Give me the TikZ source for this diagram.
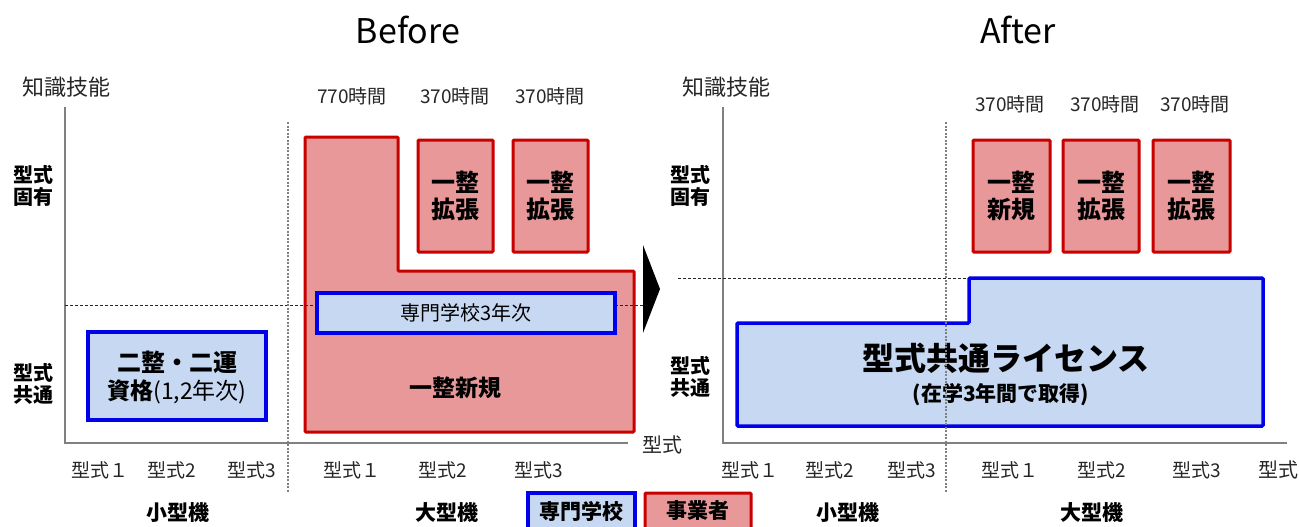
\documentclass[tikz,border=0pt]{standalone}
\usepackage{fontspec}
\setmainfont{Noto Sans CJK JP}
\definecolor{fillred}{RGB}{232,152,152}
\definecolor{bordred}{RGB}{200,0,0}
\definecolor{fillblue}{RGB}{198,216,242}
\definecolor{bordblue}{RGB}{0,0,235}
\definecolor{axisgray}{RGB}{128,128,128}
\begin{document}
\begin{tikzpicture}[x=1pt,y=-1pt,
  axisline/.style={draw=axisgray,line width=1.5pt},
  hdash/.style={draw=black!85,line width=0.9pt,dash pattern=on 3pt off 2pt},
  vdot/.style={draw=axisgray,line width=1.3pt,dash pattern=on 2pt off 1.5pt},
  redbox/.style={draw=bordred,fill=fillred,line width=3pt,rounded corners=1pt,inner sep=0pt},
  bluebox/.style={draw=bordblue,fill=fillblue,line width=3.5pt,inner sep=0pt},
  redshape/.style={draw=bordred,fill=fillred,line width=3pt,rounded corners=1pt},
  blueshape/.style={draw=bordblue,fill=fillblue,line width=3.5pt,rounded corners=1pt},
  title/.style={font=\fontsize{34}{40}\selectfont,inner sep=0pt},
  lbl/.style={font=\fontsize{19}{22}\selectfont,inner sep=0pt,text=black!85},
  ylbl/.style={font=\fontsize{22}{26}\selectfont,inner sep=0pt,text=black!85},
  side/.style={font=\bfseries\fontsize{20}{22}\selectfont,inner sep=0pt,align=center},
  boxtxt/.style={font=\bfseries\fontsize{24}{27}\selectfont,inner sep=0pt,align=center},
  group/.style={font=\bfseries\fontsize{21}{26}\selectfont,inner sep=0pt},
  legend/.style={font=\bfseries\fontsize{21}{24}\selectfont,inner sep=0pt}
]
\useasboundingbox (0,0) rectangle (1299,527);

% titles
\node[title] (before) at (408,30) {Before};
\node[title] (after) at (1018,30) {After};

% ===== Before chart =====
\coordinate (ltop) at (65,107);
\coordinate (lorig) at (65,443);
\coordinate (lxend) at (628,443);
\draw[axisline] (ltop) -- (lorig) -- (lxend);
\node[ylbl] (lknow) at (67,87) {知識技能};
\node[side] (lspec) at (33,186) {型式\\固有};
\node[side] (lcomm) at (33,384) {型式\\共通};

% big L shape (一整新規)
\draw[redshape] (305,137) -- (398,137) -- (398,271) -- (634,271) -- (634,432) -- (305,432) -- cycle;
\coordinate (ldashA) at (65,305);
\coordinate (ldashB) at (643,305);
\draw[hdash] (ldashA) -- (ldashB);
\node[bluebox,minimum width=298pt,minimum height=40pt,font=\fontsize{20}{24}\selectfont] (sen3) at (466,313) {専門学校3年次};
\node[boxtxt,font=\bfseries\fontsize{23}{26}\selectfont] (isshin) at (455,388) {一整新規};

\node[redbox,minimum width=75pt,minimum height=112pt] (lb2) at (455.5,196) {};
\node[boxtxt] (lb2t) at (lb2) {一整\\拡張};
\node[redbox,minimum width=75pt,minimum height=112pt] (lb3) at (550.5,196) {};
\node[boxtxt] (lb3t) at (lb3) {一整\\拡張};

\node[lbl] (lh1) at (352,96) {770時間};
\node[lbl] (lh2) at (455,96) {370時間};
\node[lbl] (lh3) at (550,96) {370時間};

\node[bluebox,minimum width=178pt,minimum height=88pt] (nisei) at (177,376) {};
\node[inner sep=0pt,font=\bfseries\fontsize{24}{24}\selectfont] (niseit1) at (177,362) {二整・二運};
\node[inner sep=0pt] (niseit2) at (177,392) {{\bfseries\fontsize{23}{26}\selectfont 資格}{\fontsize{23}{26}\selectfont(1,2年次)}};

\coordinate (lvA) at (288,122);
\coordinate (lvB) at (288,492);
\draw[vdot] (lvA) -- (lvB);

\node[lbl] (lt1) at (100,470) {型式１};
\node[lbl] (lt2) at (172,470) {型式2};
\node[lbl] (lt3) at (252,470) {型式3};
\node[lbl] (lt4) at (352,470) {型式１};
\node[lbl] (lt5) at (443,470) {型式2};
\node[lbl] (lt6) at (539,470) {型式3};
\node[lbl,font=\fontsize{20}{24}\selectfont] (laxis) at (662,445) {型式};

\node[group] (lsmall) at (178,513) {小型機};
\node[group] (llarge) at (447,513) {大型機};

% legend
\node[bluebox,minimum width=107pt,minimum height=42pt] (legb) at (581.5,514) {};
\node[legend] (legbt) at (581.5,511) {専門学校};
\node[redbox,minimum width=106pt,minimum height=42pt] (legr) at (698,514) {};
\node[legend] (legrt) at (698,511) {事業者};

% arrow
\fill[black] (643,245) -- (660,289) -- (643,333) -- cycle;

% ===== After chart =====
\coordinate (rtop) at (723,107);
\coordinate (rorig) at (723,443);
\coordinate (rxend) at (1287,443);
\draw[axisline] (rtop) -- (rorig) -- (rxend);
\node[ylbl] (rknow) at (726,87) {知識技能};
\node[side] (rspec) at (690,186) {型式\\固有};
\node[side] (rcomm) at (690,377) {型式\\共通};

\coordinate (rdashA) at (678,278);
\coordinate (rdashB) at (969,278);
\draw[hdash] (rdashA) -- (rdashB);
\draw[blueshape] (737,323) -- (969,323) -- (969,278) -- (1263,278) -- (1263,426) -- (737,426) -- cycle;
\node[inner sep=0pt,font=\bfseries\fontsize{32}{36}\selectfont] (lic) at (1006,358) {型式共通ライセンス};
\node[inner sep=0pt,font=\bfseries\fontsize{21}{24}\selectfont] (lic2) at (1001,395) {(在学3年間で取得)};

\coordinate (rvA) at (946,122);
\coordinate (rvB) at (946,492);
\draw[vdot] (rvA) -- (rvB);

\node[redbox,minimum width=77pt,minimum height=112pt] (rb1) at (1011.5,196) {};
\node[boxtxt] (rb1t) at (rb1) {一整\\新規};
\node[redbox,minimum width=76pt,minimum height=112pt] (rb2) at (1101,196) {};
\node[boxtxt] (rb2t) at (rb2) {一整\\拡張};
\node[redbox,minimum width=77pt,minimum height=112pt] (rb3) at (1191.5,196) {};
\node[boxtxt] (rb3t) at (rb3) {一整\\拡張};

\node[lbl] (rh1) at (1010,104) {370時間};
\node[lbl] (rh2) at (1105,104) {370時間};
\node[lbl] (rh3) at (1195,104) {370時間};

\node[lbl] (rt1) at (750,470) {型式１};
\node[lbl] (rt2) at (830,470) {型式2};
\node[lbl] (rt3) at (912,470) {型式3};
\node[lbl] (rt4) at (1010,470) {型式１};
\node[lbl] (rt5) at (1102,470) {型式2};
\node[lbl] (rt6) at (1197,470) {型式3};
\node[lbl,font=\fontsize{20}{24}\selectfont] (raxis) at (1278,470) {型式};

\node[group] (rsmall) at (848,513) {小型機};
\node[group] (rlarge) at (1092,513) {大型機};
\end{tikzpicture}
\end{document}
